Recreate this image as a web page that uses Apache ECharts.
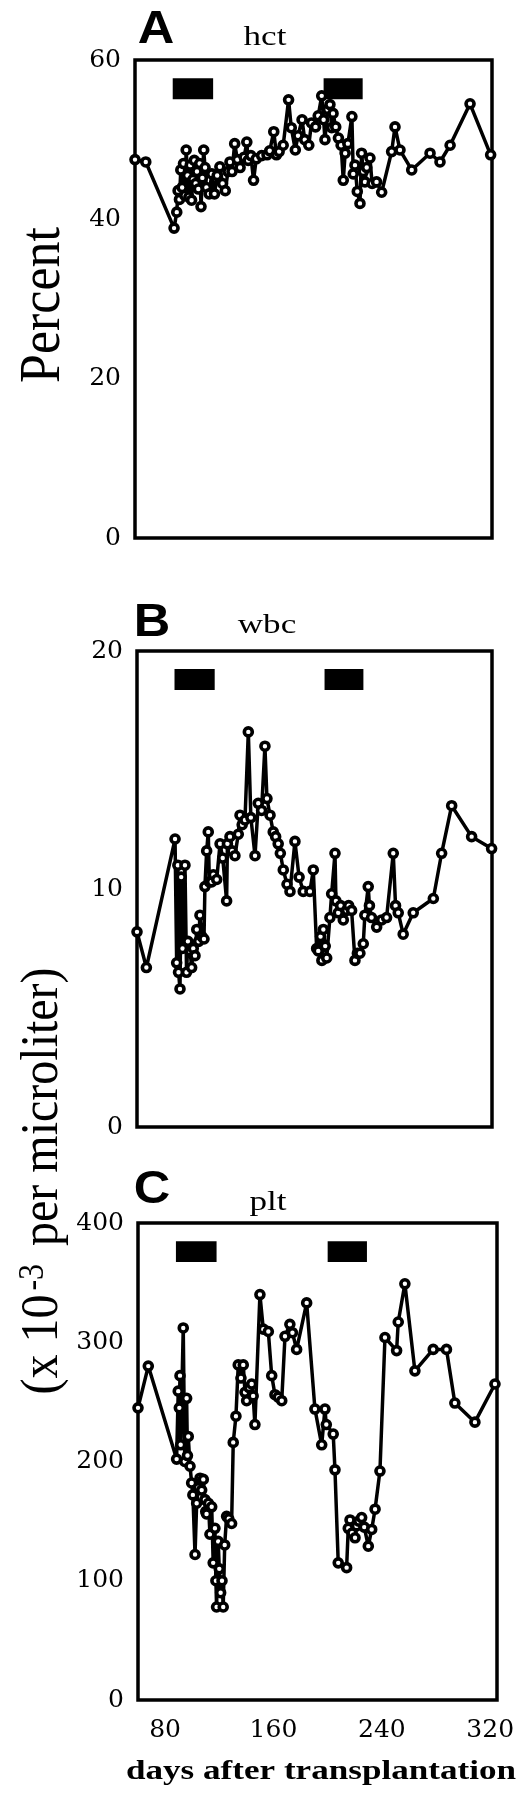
<!DOCTYPE html>
<html>
<head>
<meta charset="utf-8">
<script src="https://cdn.jsdelivr.net/npm/echarts@6/dist/echarts.min.js"></script>
<style>
html,body{margin:0;padding:0;background:#fff;}
#chart{width:520px;height:1797px;}
</style>
</head>
<body>
<div id="chart"></div>
<script>
// ---- data (days after transplantation / values) ----
const xTickValues = [80, 160, 240, 320];
const treatmentPeriods = [[88, 118], [200, 229]];

const hctDays = [60,68,89,91,92,93,94,95,96,97,98,99,100,101,102,103,104,105,106,107,108,109,110,111,112,113,115,117,119,121,123,125,127,129,130.5,132,134,136,138,141,143,144,146,148,150,154,158,160,163,165,167,170,174,176,179,181,184,186,189,191,194,196,198.6,200,201,203,204.7,206,207,209,211,213,214.6,216,218,221,222,223.3,225,227,228.2,229.4,230.7,232,234.4,236,239.3,243.1,250.5,253,256.7,265.4,279,286.4,293.9,308.7,324];
const hctValues = [47.5,47.2,38.9,40.9,43.6,42.5,46.2,44.0,47.0,43.0,48.7,45.5,42.8,46.8,42.4,45.0,47.4,44.5,46.0,43.8,47.0,41.6,45.2,48.7,46.5,44.0,43.2,45.7,43.2,45.5,46.6,44.5,43.6,46.0,47.2,46.0,49.5,47.5,46.5,47.8,49.7,47.4,48.0,44.9,47.6,48.0,48.1,48.6,51.0,48.1,48.5,49.3,55.0,51.5,48.7,50.5,52.5,50.0,49.3,52.1,51.6,53.0,55.5,52.5,50.0,53.8,54.4,51.5,53.3,51.6,50.2,49.3,44.9,48.3,49.5,52.9,45.7,46.8,43.5,42.0,48.3,46.0,44.7,46.5,47.7,44.5,44.7,43.4,48.5,51.6,48.7,46.2,48.3,47.2,49.3,54.5,48.1];

const wbcDays = [60,67,88.4,89.6,90.5,91,92.1,93,94,95.8,97,98,99.6,100.8,102,103.3,104.6,106,107,108.5,110,110.7,112,113.2,114,115.7,117,119.5,122,124,126.9,127.5,129.4,131,133.1,135.6,136.9,138.5,140.6,143.1,145,148.1,150.5,153,155.5,157,159.3,161.7,163.5,165.4,167,169.2,172,174.2,177.9,181,184.1,189.1,191.6,194.1,195.3,197,198,199.1,200.5,201.6,204,205.3,207.8,208.5,210.2,212,214,216.5,218,220.2,222.7,224.5,226.4,228.9,230.1,232.6,233.5,235.1,238.9,242.6,246.3,251.3,253,255,258.7,266.2,281.2,287.4,294.9,309.8,324.7];
const wbcValues = [8.2,6.7,12.1,6.9,11.0,6.5,5.8,10.5,7.5,11.0,6.5,7.8,7.4,6.7,7.5,7.2,8.3,7.8,8.9,8.0,7.9,10.1,11.6,12.4,10.3,10.3,10.6,10.4,11.9,11.3,9.5,11.9,12.2,11.6,11.4,12.3,13.1,12.7,12.9,16.6,13.0,11.4,13.6,13.3,16.0,13.8,13.1,12.4,12.2,11.9,11.5,10.8,10.2,9.9,12.0,10.5,9.9,9.9,10.8,7.5,7.4,8.0,7.0,8.3,7.6,7.1,8.8,9.8,11.5,9.5,9.0,9.3,8.7,9.1,9.3,9.1,7.0,7.3,7.3,7.7,8.9,10.1,9.3,8.8,8.4,8.7,8.8,11.5,9.3,9.0,8.1,9.0,9.6,11.5,13.5,12.2,11.7];

const pltDays = [60,67.6,88.5,89.7,90.5,91,91.5,93.4,94.5,95.9,96.5,97.1,98.4,99.6,100.5,102.1,103.3,104.5,105.8,107,108.2,109.4,110,110.6,112,113.1,114.4,115.5,116.8,117.5,118,119.2,120,121,122,122.9,124,125.4,127,129.1,130.3,132.3,134,136,137.7,139,140.2,142,143.9,145,146.3,150,152.5,156.2,158.7,161.1,163.5,166.1,168.5,172.1,174,177.1,184.5,190.6,195.6,198,199,204.1,205.4,207.8,214,215.2,216.5,218,220.2,221.3,223,225.1,227,230,232.5,235,238.6,242.3,250.9,252.1,257,264.4,277.9,287.7,293.9,308.7,323.5];
const pltValues = [245,280,202,259,245,272,214,312,200,253,205,221,196,182,172,122,165,178,186,176,185,168,158,156,165,139,162,115,144,100,78,133,110,90,100,78,130,154,152,148,216,238,281,270,281,258,251,262,265,255,231,340,311,309,272,256,254,251,305,315,308,294,333,244,214,244,231,223,193,115,111,144,151,140,136,146,150,153,145,129,143,160,192,304,293,317,349,276,294,294,249,233,265];

// ---- chart ----
const panels = [
  {days: hctDays, vals: hctValues, max: 60, interval: 20, grid: {left: 135, top: 60, width: 357, height: 478}},
  {days: wbcDays, vals: wbcValues, max: 20, interval: 10, grid: {left: 137, top: 651, width: 355, height: 476}},
  {days: pltDays, vals: pltValues, max: 400, interval: 100, grid: {left: 138, top: 1223, width: 359, height: 477}}
];

const labelFont = {fontFamily: 'DejaVu Serif', fontSize: 25, color: '#000'};

const option = {
  animation: false,
  backgroundColor: '#fff',
  grid: panels.map(p => Object.assign({show: true, borderColor: '#000', borderWidth: 3.5, backgroundColor: 'transparent'}, p.grid)),
  xAxis: panels.map((p, i) => ({
    type: 'value', gridIndex: i, min: 60, max: 325,
    axisLine: {show: false}, axisTick: {show: false}, splitLine: {show: false},
    axisLabel: i === 2 ? Object.assign({show: true, customValues: xTickValues, margin: 18}, labelFont) : {show: false}
  })),
  yAxis: panels.map((p, i) => ({
    type: 'value', gridIndex: i, min: 0, max: p.max, interval: p.interval,
    axisLine: {show: false}, axisTick: {show: false}, splitLine: {show: false},
    axisLabel: Object.assign({margin: 14}, labelFont)
  })),
  series: panels.map((p, i) => ({
    type: 'line', xAxisIndex: i, yAxisIndex: i,
    data: p.days.map((d, k) => [d, p.vals[k]]),
    clip: false,
    symbol: 'circle', symbolSize: 8,
    lineStyle: {color: '#000', width: 3.5},
    itemStyle: {color: '#fff', borderColor: '#000', borderWidth: 3.6},
    markArea: {
      silent: true,
      itemStyle: {color: '#000', opacity: 1},
      label: {show: false},
      data: treatmentPeriods.map(t => [
        {xAxis: t[0], yAxis: p.max * 0.962},
        {xAxis: t[1], yAxis: p.max * 0.918}
      ])
    }
  })),
  graphic: [
    {type: 'text', x: 156, y: 30, scaleX: 1.1, style: {text: 'A', font: 'bold 46px "Liberation Sans"', fill: '#000', textAlign: 'center', textVerticalAlign: 'middle'}},
    {type: 'text', x: 152, y: 623, scaleX: 1.1, style: {text: 'B', font: 'bold 46px "Liberation Sans"', fill: '#000', textAlign: 'center', textVerticalAlign: 'middle'}},
    {type: 'text', x: 152, y: 1190, scaleX: 1.1, style: {text: 'C', font: 'bold 46px "Liberation Sans"', fill: '#000', textAlign: 'center', textVerticalAlign: 'middle'}},
    {type: 'text', x: 265, y: 38, scaleX: 1.3, style: {text: 'hct', font: '27px "Liberation Serif"', fill: '#000', textAlign: 'center', textVerticalAlign: 'middle'}},
    {type: 'text', x: 267, y: 626, scaleX: 1.3, style: {text: 'wbc', font: '27px "Liberation Serif"', fill: '#000', textAlign: 'center', textVerticalAlign: 'middle'}},
    {type: 'text', x: 268, y: 1203, scaleX: 1.3, style: {text: 'plt', font: '27px "Liberation Serif"', fill: '#000', textAlign: 'center', textVerticalAlign: 'middle'}},
    {type: 'text', x: 321, y: 1772, scaleX: 1.3, style: {text: 'days after transplantation', font: 'bold 27px "Liberation Serif"', fill: '#000', textAlign: 'center', textVerticalAlign: 'middle'}},
    {type: 'text', x: 44, y: 305, rotation: Math.PI / 2, scaleY: 1.1, style: {text: 'Percent', font: '52px "Liberation Serif"', fill: '#000', textAlign: 'center', textVerticalAlign: 'middle'}},
    {type: 'text', x: 43, y: 1181, rotation: Math.PI / 2, scaleY: 1.1, style: {
      text: '(x 10{sup|-3} per microliter)',
      font: '48px "Liberation Serif"', fill: '#000', textAlign: 'center', textVerticalAlign: 'middle',
      rich: {sup: {font: '32px "Liberation Serif"', fill: '#000', verticalAlign: 'top', padding: [0, 6, 0, 4]}}
    }}
  ]
};

const chart = echarts.init(document.getElementById('chart'), null, {renderer: 'canvas'});
chart.setOption(option);
</script>
</body>
</html>
